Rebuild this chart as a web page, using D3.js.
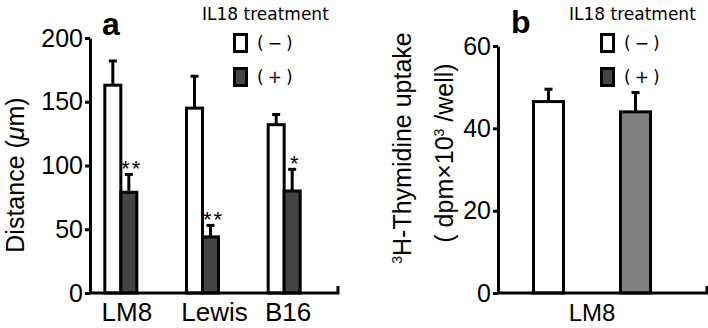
<!DOCTYPE html>
<html>
<head>
<meta charset="utf-8">
<script src="https://cdn.jsdelivr.net/npm/d3@7"></script>
<style>
  body { margin: 0; background: #fff; }
  svg text { font-family: "Liberation Sans", Arial, sans-serif; fill: #000; }
  .legend text { font-family: "DejaVu Sans", sans-serif; }
</style>
</head>
<body>
<svg id="fig" width="708" height="328"></svg>
<script>
// panel a: migration distance
const cellLines = ["LM8", "Lewis", "B16"];
const treatments = ["(−)", "(+)"];
const distanceMean = [[163, 79], [145, 44], [132, 80]];
const distanceErr = [[19, 14], [25, 9], [8, 17]];
const distanceStars = ["**", "**", "*"];
const distanceTicks = [0, 50, 100, 150, 200];

// panel b: thymidine uptake
const uptakeGroup = "LM8";
const uptakeMean = [46.5, 44];
const uptakeErr = [3, 4.7];
const uptakeTicks = [0, 20, 40, 60];

const svg = d3.select("#fig");
const lw = 3;

function yAxis(g, y, ticks, x) {
  const ax = g.append("g")
    .attr("transform", `translate(${x},0)`)
    .call(d3.axisLeft(y).tickValues(ticks).tickSize(5).tickSizeOuter(0).tickPadding(2));
  ax.select(".domain").attr("stroke-width", lw);
  ax.selectAll(".tick line").attr("stroke-width", lw);
  ax.selectAll(".tick text").attr("font-size", 25).attr("font-family", "Liberation Sans, Arial, sans-serif");
  return ax;
}

function baseLine(g, x0, x1, y0) {
  g.append("path")
    .attr("d", `M${x0},${y0}H${x1}V${y0 - 7}`)
    .attr("fill", "none").attr("stroke", "#000").attr("stroke-width", lw);
}

function errBar(g, cx, yBar, yTop) {
  g.append("line").attr("x1", cx).attr("x2", cx).attr("y1", yBar).attr("y2", yTop)
    .attr("stroke", "#000").attr("stroke-width", lw);
  g.append("line").attr("x1", cx - 4).attr("x2", cx + 4).attr("y1", yTop).attr("y2", yTop)
    .attr("stroke", "#000").attr("stroke-width", lw);
}

function legend(g, x, y) {
  const lg = g.append("g").attr("class", "legend").attr("transform", `translate(${x},${y})`);
  lg.append("text").attr("x", 0).attr("y", 0).attr("font-size", 17).text("IL18 treatment");
  treatments.forEach((t, i) => {
    lg.append("rect")
      .attr("x", 32.5).attr("y", 14.5 + i * 34).attr("width", 12).attr("height", 17)
      .attr("fill", i ? "#444" : "#fff").attr("stroke", "#000").attr("stroke-width", lw);
    lg.append("text").attr("x", 55).attr("y", 29 + i * 34)
      .attr("font-size", 17).attr("letter-spacing", 4).text(t);
  });
}

// ---------- panel a ----------
const ga = svg.append("g");
const ya = d3.scaleLinear().domain([0, 200]).range([293, 38]);
const xa = d3.scaleBand().domain(cellLines).range([80, 325]);
const xia = d3.scaleBand().domain(treatments).range([-16, 16]);

cellLines.forEach((c, ci) => {
  treatments.forEach((t, ti) => {
    const v = distanceMean[ci][ti];
    const x = xa(c) + xa.bandwidth() / 2 + xia(t);
    ga.append("rect")
      .attr("x", x).attr("y", ya(v))
      .attr("width", xia.bandwidth()).attr("height", ya(0) - ya(v))
      .attr("fill", ti ? "#444" : "#fff").attr("stroke", "#000").attr("stroke-width", lw);
    errBar(ga, x + xia.bandwidth() / 2, ya(v), ya(v + distanceErr[ci][ti]));
  });
  const gx = xa(c) + xa.bandwidth() / 2 + xia("(+)") + xia.bandwidth() / 2;
  ga.append("text")
    .attr("x", gx + 3).attr("y", ya(distanceMean[ci][1] + distanceErr[ci][1]) + 2)
    .attr("text-anchor", "middle").attr("font-size", 22).attr("letter-spacing", 2)
    .text(distanceStars[ci]);
  ga.append("text")
    .attr("x", xa(c) + xa.bandwidth() / 2 + [6, 12, 4][ci]).attr("y", 321)
    .attr("text-anchor", "middle").attr("font-size", 26).text(c);
});

baseLine(ga, 90, 338, ya(0));
yAxis(ga, ya, distanceTicks, 90);

ga.append("text")
  .attr("transform", "translate(24,175) rotate(-90)")
  .attr("text-anchor", "middle").attr("font-size", 25)
  .call(t => {
    t.append("tspan").text("Distance (");
    t.append("tspan").attr("font-style", "italic").text("μ");
    t.append("tspan").text("m)");
  });

ga.append("text").attr("x", 102).attr("y", 35)
  .attr("font-size", 32).attr("font-weight", "bold").text("a");
legend(ga, 202, 20);

// ---------- panel b ----------
const gb = svg.append("g");
const yb = d3.scaleLinear().domain([0, 60]).range([293, 46]);
const xb = d3.scalePoint().domain(treatments).range([505, 679]).padding(0.5);
const bw = 30;

treatments.forEach((t, ti) => {
  const v = uptakeMean[ti];
  const cx = xb(t);
  gb.append("rect")
    .attr("x", cx - bw / 2).attr("y", yb(v))
    .attr("width", bw).attr("height", yb(0) - yb(v))
    .attr("fill", ti ? "#808080" : "#fff").attr("stroke", "#000").attr("stroke-width", lw);
  errBar(gb, cx, yb(v), yb(v + uptakeErr[ti]));
});

baseLine(gb, 498, 707, yb(0));
yAxis(gb, yb, uptakeTicks, 498);

gb.append("text")
  .attr("x", d3.mean(treatments, xb)).attr("y", 321)
  .attr("text-anchor", "middle").attr("font-size", 24).text(uptakeGroup);

gb.append("text")
  .attr("transform", "translate(411,148) rotate(-90)")
  .attr("text-anchor", "middle").attr("font-size", 25)
  .call(t => {
    t.append("tspan").attr("font-size", 14).attr("dy", -9).text("3");
    t.append("tspan").attr("dy", 9).text("H-Thymidine uptake");
  });
gb.append("text")
  .attr("transform", "translate(453,153) rotate(-90)")
  .attr("text-anchor", "middle").attr("font-size", 25)
  .call(t => {
    t.append("tspan").text("( dpm×10");
    t.append("tspan").attr("font-size", 14).attr("dy", -9).text("3");
    t.append("tspan").attr("dy", 9).text(" /well)");
  });

gb.append("text").attr("x", 511).attr("y", 33)
  .attr("font-size", 32).attr("font-weight", "bold").text("b");
legend(gb, 569, 20);
</script>
</body>
</html>
